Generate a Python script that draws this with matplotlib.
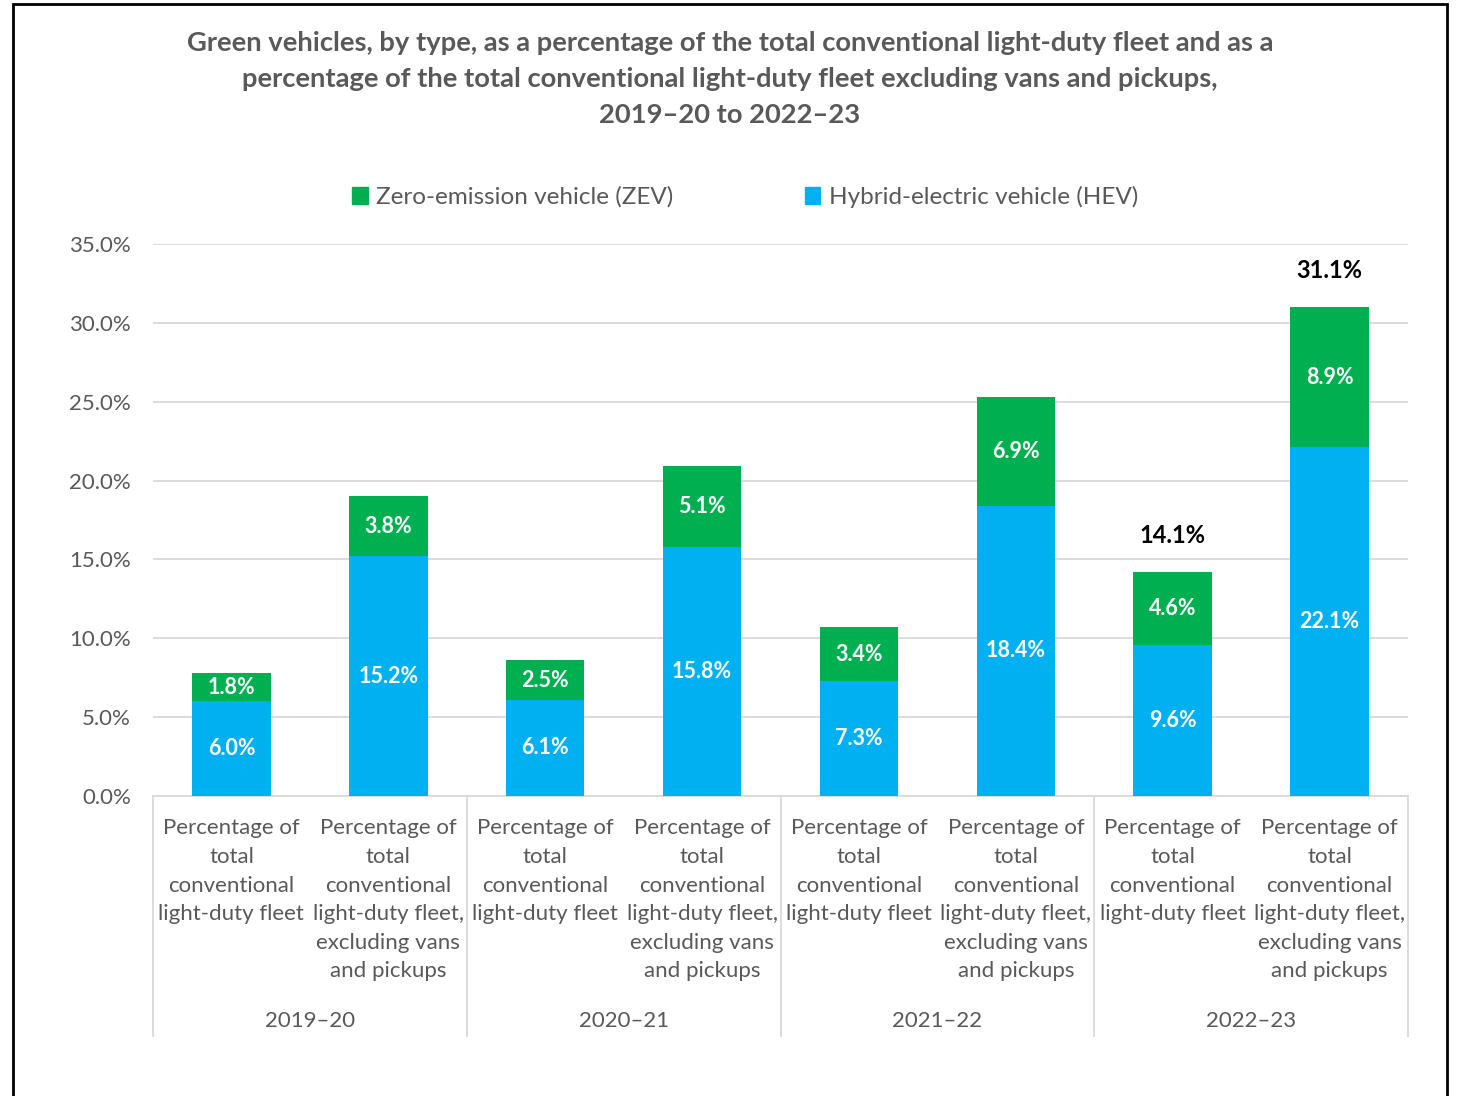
import numpy as np
import matplotlib
matplotlib.use("Agg")
import matplotlib.pyplot as plt
import matplotlib.transforms as mtransforms
from matplotlib.patches import Rectangle

plt.rcParams['font.family'] = ['Lato', 'DejaVu Sans']

# Données
years = ["2019–20", "2020–21", "2021–22", "2022–23"]
cat_labels = ["Percentage of\ntotal\nconventional\nlight-duty fleet",
              "Percentage of\ntotal\nconventional\nlight-duty fleet,\nexcluding vans\nand pickups"] * 4
hev = [6.0, 15.2, 6.1, 15.8, 7.3, 18.4, 9.6, 22.1]
zev = [1.8, 3.8, 2.5, 5.1, 3.4, 6.9, 4.6, 8.9]
totals = [None, None, None, None, None, None, 14.1, 31.1]

green = "#00B050"
blue = "#00B0F0"
grey = "#595959"

fig = plt.figure(figsize=(14.6, 10.96), dpi=100)
ax = fig.add_axes([153/1460, 1 - 796/1096, 1255/1460, 552/1096])

x = np.arange(len(hev))
ax.bar(x, hev, width=0.5, color=blue, zorder=3)
ax.bar(x, zev, width=0.5, bottom=hev, color=green, zorder=3)

# Etiquettes des valeurs
for i in range(len(x)):
    ax.text(x[i], hev[i] / 2, f"{hev[i]:.1f}%", ha="center", va="center",
            color="white", fontsize=15.5, fontweight="bold", zorder=4)
    ax.text(x[i], hev[i] + zev[i] / 2, f"{zev[i]:.1f}%", ha="center", va="center",
            color="white", fontsize=15.5, fontweight="bold", zorder=4)
    if totals[i] is not None:
        ax.annotate(f"{totals[i]:.1f}%", (x[i], hev[i] + zev[i]), xytext=(0, 37),
                    textcoords="offset pixels", ha="center", va="center",
                    color="black", fontsize=17, fontweight="bold")

ax.set_xlim(-0.5, len(x) - 0.5)
ax.set_ylim(0, 35)
ax.set_yticks(np.arange(0, 35.1, 5))
ax.set_yticklabels([f"{v:.1f}%" for v in np.arange(0, 35.1, 5)], color=grey, fontsize=16)
ax.tick_params(axis="y", length=0, pad=16)
ax.grid(axis="y", color="#d9d9d9", lw=1.3, zorder=0)

ax.set_xticks(x)
ax.set_xticklabels(cat_labels, color=grey, fontsize=16, linespacing=1.54, va="top")
ax.tick_params(axis="x", length=0, pad=16)

for s in ["top", "right", "left"]:
    ax.spines[s].set_visible(False)
ax.spines["bottom"].set_color("#d9d9d9")
ax.spines["bottom"].set_linewidth(1.3)

# Séparateurs et années
trans = mtransforms.blended_transform_factory(ax.transData, ax.transAxes)
for k in range(len(years) + 1):
    ax.plot([2 * k - 0.5, 2 * k - 0.5], [0, -240/552], transform=trans,
            color="#d9d9d9", lw=1.3, clip_on=False)
for k, yr in enumerate(years):
    ax.text(2 * k + 0.5, -225/552, yr, transform=trans, ha="center", va="center",
            color=grey, fontsize=16)

# Titre
fig.text(0.5, 1 - 79/1096, "Green vehicles, by type, as a percentage of the total conventional light-duty fleet and as a\n"
         "percentage of the total conventional light-duty fleet excluding vans and pickups,\n2019–20 to 2022–23",
         ha="center", va="center", color=grey, fontsize=19.7, fontweight="bold", linespacing=1.58)

# Légende
h1 = Rectangle((0, 0), 1, 1, color=green)
h2 = Rectangle((0, 0), 1, 1, color=blue)
fig.legend([h1, h2], ["Zero-emission vehicle (ZEV)", "Hybrid-electric vehicle (HEV)"],
           loc="center", bbox_to_anchor=(745/1460, 1 - 197/1096), ncol=2, frameon=False,
           fontsize=17.5, labelcolor=grey, handlelength=0.65, handleheight=0.65,
           handletextpad=0.35, columnspacing=5.4)

# Cadre
fig.patches.append(Rectangle((13/1460, -0.05), 1434/1460, 1.05 - 4/1096, transform=fig.transFigure,
                             fill=False, edgecolor="black", lw=2))

fig.savefig("out.png", dpi=100)
